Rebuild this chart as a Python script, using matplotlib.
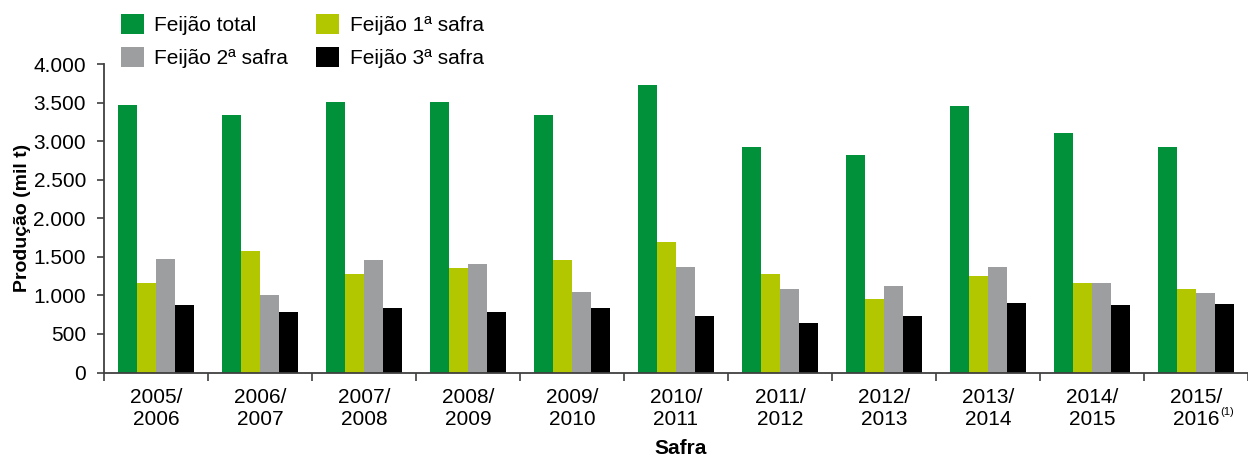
import matplotlib
matplotlib.use("Agg")
import matplotlib.pyplot as plt
import numpy as np

plt.rcParams['font.family'] = ['Liberation Sans', 'DejaVu Sans']

safras = ["2005/\n2006", "2006/\n2007", "2007/\n2008", "2008/\n2009", "2009/\n2010",
          "2010/\n2011", "2011/\n2012", "2012/\n2013", "2013/\n2014", "2014/\n2015",
          "2015/\n2016"]
total = [3470, 3340, 3510, 3510, 3340, 3730, 2930, 2820, 3455, 3110, 2930]
safra1 = [1160, 1570, 1275, 1350, 1455, 1690, 1275, 955, 1250, 1160, 1085]
safra2 = [1470, 1005, 1455, 1405, 1045, 1365, 1080, 1120, 1365, 1160, 1030]
safra3 = [875, 785, 835, 785, 835, 735, 645, 735, 900, 875, 885]

series = [
    ("Feijão total", total, "#00913A"),
    ("Feijão 1ª safra", safra1, "#B3C700"),
    ("Feijão 2ª safra", safra2, "#9D9E9F"),
    ("Feijão 3ª safra", safra3, "#000000"),
]

W, H = 1248, 459
fig = plt.figure(figsize=(W / 100, H / 100), dpi=100)
left_px, right_px, bottom_px, top_px = 104, 1248, 372.5, 64
ax = fig.add_axes([left_px / W, 1 - bottom_px / H, (right_px - left_px) / W, (bottom_px - top_px) / H])

x = np.arange(len(safras))
bw = 0.181
handles = {}
for i, (name, vals, col) in enumerate(series):
    b = ax.bar(x + (i - 1.5) * bw, vals, width=bw, color=col, label=name, linewidth=0)
    handles[name] = b

ax.set_ylim(0, 4000)
ax.set_xlim(-0.5, 10.398)
ax.set_yticks(np.arange(0, 4001, 500))
ax.set_yticklabels([f"{v:,}".replace(",", ".") for v in range(0, 4001, 500)], fontsize=15)

ax.set_xticks(np.arange(-0.5, 11, 1.0))
ax.set_xticklabels([])
ax.set_xticks(x, minor=True)
ax.set_xticklabels(safras, minor=True, fontsize=15, linespacing=1.2)
ax.tick_params(axis='x', which='minor', length=0, pad=11)
ax.tick_params(axis='x', which='major', length=6, width=1.2, color="#404040", direction='out')
ax.tick_params(axis='y', length=5, width=1.2, color="#404040", pad=8)

for s in ['top', 'right']:
    ax.spines[s].set_visible(False)
for s in ['left', 'bottom']:
    ax.spines[s].set_color("#404040")
    ax.spines[s].set_linewidth(1.3)

ax.annotate("(1)", xy=(10, 0), xycoords=('data', 'axes fraction'),
            xytext=(17.5, -24.5), textcoords='offset points', fontsize=8, ha='left', va='top')

ax.set_ylabel("Produção (mil t)", fontsize=14, fontweight='bold', labelpad=2)
fig.text(681 / W, 1 - 449 / H, "Safra", fontsize=15, fontweight='bold', ha='center', va='center')

order = ["Feijão total", "Feijão 2ª safra", "Feijão 1ª safra", "Feijão 3ª safra"]
fig.legend([handles[n] for n in order], order, loc='upper left',
           bbox_to_anchor=(121 / W, 1 - 14 / H), ncol=2, frameon=False, fontsize=15,
           handlelength=1.1, handleheight=1.1, handletextpad=0.5, columnspacing=1.35,
           labelspacing=0.55, borderpad=0, borderaxespad=0)

fig.savefig("out.png", dpi=100)
